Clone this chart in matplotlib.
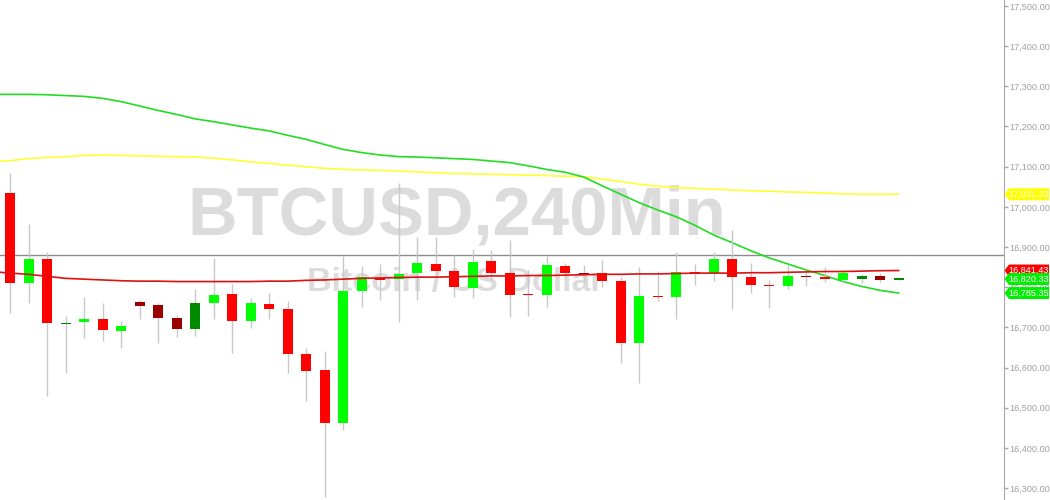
import matplotlib
matplotlib.use("Agg")
import matplotlib.pyplot as plt
from matplotlib.patches import Polygon
from matplotlib.transforms import IdentityTransform
import numpy as np

# ---- data ----
opens = [17035, 16811, 16870, 16709, 16713, 16722, 16692, 16764, 16756, 16723,
         16696, 16760, 16783, 16717, 16759, 16746, 16634, 16593, 16462, 16791,
         16822, 16820, 16835, 16858, 16840, 16797, 16864, 16835, 16782, 16781,
         16853, 16835, 16835, 16815, 16660, 16778, 16776, 16838, 16836, 16870,
         16825, 16805, 16804, 16828, 16825, 16818, 16821, 16827, 16819]
highs = [17085, 16957, 16888, 16729, 16776, 16761, 16716, 16768, 16761, 16730,
         16795, 16873, 16808, 16773, 16786, 16765, 16649, 16642, 16878, 16853,
         16858, 17059, 16926, 16926, 16880, 16894, 16893, 16917, 16843, 16878,
         16859, 16855, 16868, 16825, 16851, 16841, 16887, 16858, 16888, 16942,
         16859, 16818, 16855, 16843, 16850, 16843, 16834, 16835, 16823]
lows = [16735, 16760, 16530, 16586, 16674, 16666, 16649, 16720, 16662, 16677,
        16679, 16722, 16637, 16698, 16721, 16586, 16517, 16278, 16444, 16751,
        16768, 16714, 16768, 16830, 16776, 16772, 16818, 16725, 16729, 16750,
        16822, 16814, 16801, 16611, 16561, 16766, 16720, 16805, 16815, 16745,
        16785, 16749, 16796, 16804, 16814, 16810, 16810, 16813, 16817]
closes = [16810, 16870, 16710, 16712, 16722, 16693, 16704, 16754, 16723, 16696,
          16761, 16781, 16717, 16761, 16746, 16634, 16592, 16463, 16790, 16825,
          16818, 16833, 16859, 16841, 16801, 16863, 16836, 16780, 16780, 16854,
          16836, 16833, 16815, 16660, 16779, 16776, 16837, 16834, 16870, 16826,
          16805, 16803, 16829, 16825, 16820, 16836, 16828, 16818, 16820.33]
# candle style: 'r' red, 'g' green, 'dr' dark red, 'dg' dark green
styles = ['r', 'g', 'r', 'dg', 'g', 'r', 'g', 'dr', 'dr', 'dr',
          'dg', 'g', 'r', 'g', 'r', 'r', 'r', 'r', 'g', 'g',
          'r', 'g', 'g', 'r', 'r', 'g', 'r', 'r', 'r', 'g',
          'r', 'dr', 'r', 'r', 'g', 'r', 'g', 'r', 'g', 'r',
          'r', 'r', 'g', 'dr', 'r', 'g', 'dg', 'dr', 'dg']

# moving averages, first value belongs to the bar before the first candle
ma_fast = [16839, 16835, 16832, 16827, 16822, 16820, 16818, 16816, 16815, 16815,
           16814, 16814, 16814, 16814, 16814, 16815, 16815, 16817, 16818, 16820,
           16822, 16823, 16824, 16825, 16825, 16826, 16827, 16828, 16828, 16829,
           16829, 16830, 16831, 16832, 16832, 16833, 16833, 16834, 16835, 16835,
           16835, 16836, 16836, 16837, 16838, 16839, 16839, 16840, 16841, 16841.43]
ma_mid = [17280, 17280, 17280, 17279, 17277, 17275, 17270, 17262, 17251, 17240,
          17230, 17219, 17212, 17204, 17196, 17189, 17178, 17168, 17155, 17143,
          17135, 17129, 17125, 17124, 17122, 17120, 17118, 17114, 17110, 17102,
          17093, 17086, 17074, 17052, 17031, 17010, 16992, 16975, 16954, 16930,
          16911, 16891, 16873, 16858, 16843, 16829, 16814, 16802, 16792, 16785.35]
ma_slow = [17112, 17115, 17120, 17123, 17125, 17128, 17129, 17128, 17127, 17126,
           17125, 17124, 17121, 17117, 17112, 17108, 17104, 17100, 17096, 17093,
           17092, 17091, 17089, 17087, 17085, 17083, 17082, 17081, 17080, 17079,
           17078, 17076, 17075, 17069, 17063, 17056, 17051, 17048, 17046, 17044,
           17042, 17040, 17039, 17037, 17036, 17034, 17032, 17031.5, 17031.5, 17031.32]
price_line = 16880
yticks = [16300, 16400, 16500, 16600, 16700, 16800, 16900, 17000, 17100, 17200,
          17300, 17400, 17500]
badge_values = [17031.32, 16841.43, 16820.33, 16785.35]
badge_colors = ['#ffff00', '#ff0000', '#00ee00', '#00ee00']
title_text = "BTCUSD,240Min"
subtitle_text = "Bitcoin / US Dollar"

colors = {'r': '#ff0000', 'g': '#00ff00', 'dr': '#9b0000', 'dg': '#008a00'}

W, H = 1050, 500
fig = plt.figure(figsize=(W / 100, H / 100), dpi=100)
ax = fig.add_axes([0, 0, 1004 / W, 1])
ax.set_facecolor('white')

n = len(opens)
x = np.arange(n)
ax.set_xlim(-0.54, 53.69)
ax.set_ylim(16270.2, 17514.9)

# watermark
ax.text(0.4552, 0.567, title_text, transform=ax.transAxes, ha='center', va='center',
        fontsize=49.5, fontweight='bold', family='Liberation Sans', color='#dcdcdc', zorder=0)
ax.text(0.4532, 0.436, subtitle_text, transform=ax.transAxes, ha='center', va='center',
        fontsize=24.5, fontweight='bold', family='Liberation Sans', color='#dcdcdc', zorder=0)

# price line
ax.axhline(price_line, color='#8c8c8c', lw=1.0, zorder=1)

# moving averages
xm = np.arange(-1, n)
ax.plot(xm, ma_slow, color='#ffff33', lw=1.2, zorder=2)
ax.plot(xm, ma_mid, color='#22dd22', lw=1.2, zorder=2)
ax.plot(xm, ma_fast, color='#dd1111', lw=1.2, zorder=4)

# candles
ax.vlines(x, lows, highs, color='#c8c8c8', lw=1.0, zorder=3)
bottoms = [min(o, c) for o, c in zip(opens, closes)]
heights = [max(abs(c - o), 3.0) for o, c in zip(opens, closes)]
ax.bar(x, heights, bottom=bottoms, width=0.54, color=[colors[s] for s in styles],
       edgecolor='none', zorder=3)

# axis styling
for s in ['top', 'left', 'bottom']:
    ax.spines[s].set_visible(False)
ax.spines['right'].set_color('#a8a8a8')
ax.yaxis.tick_right()
ax.set_yticks(yticks)
ax.set_yticklabels([f"{v:,.2f}" for v in yticks], family='Liberation Sans')
ax.tick_params(axis='y', direction='out', length=3, width=1, color='#a8a8a8',
               labelcolor='#a0a0a0', labelsize=6.6, pad=1)
ax.set_xticks([])

# badges (drawn in pixel coordinates)
for val, col in zip(badge_values, badge_colors):
    _, yp = ax.transData.transform((0, val))
    x0, x1, x2 = 1004.5, 1009, 1049
    h = 6
    poly = Polygon([(x0, yp), (x1, yp + h), (x2, yp + h), (x2, yp - h), (x1, yp - h)],
                   closed=True, fc=col, ec='none', transform=IdentityTransform(), zorder=10)
    fig.patches.append(poly)
    fig.text(1008.5 / W, yp / H, f"{val:,.2f}", ha='left', va='center',
             fontsize=6.6, family='Liberation Sans', color='white', zorder=11)

fig.savefig('out.png', dpi=100)
